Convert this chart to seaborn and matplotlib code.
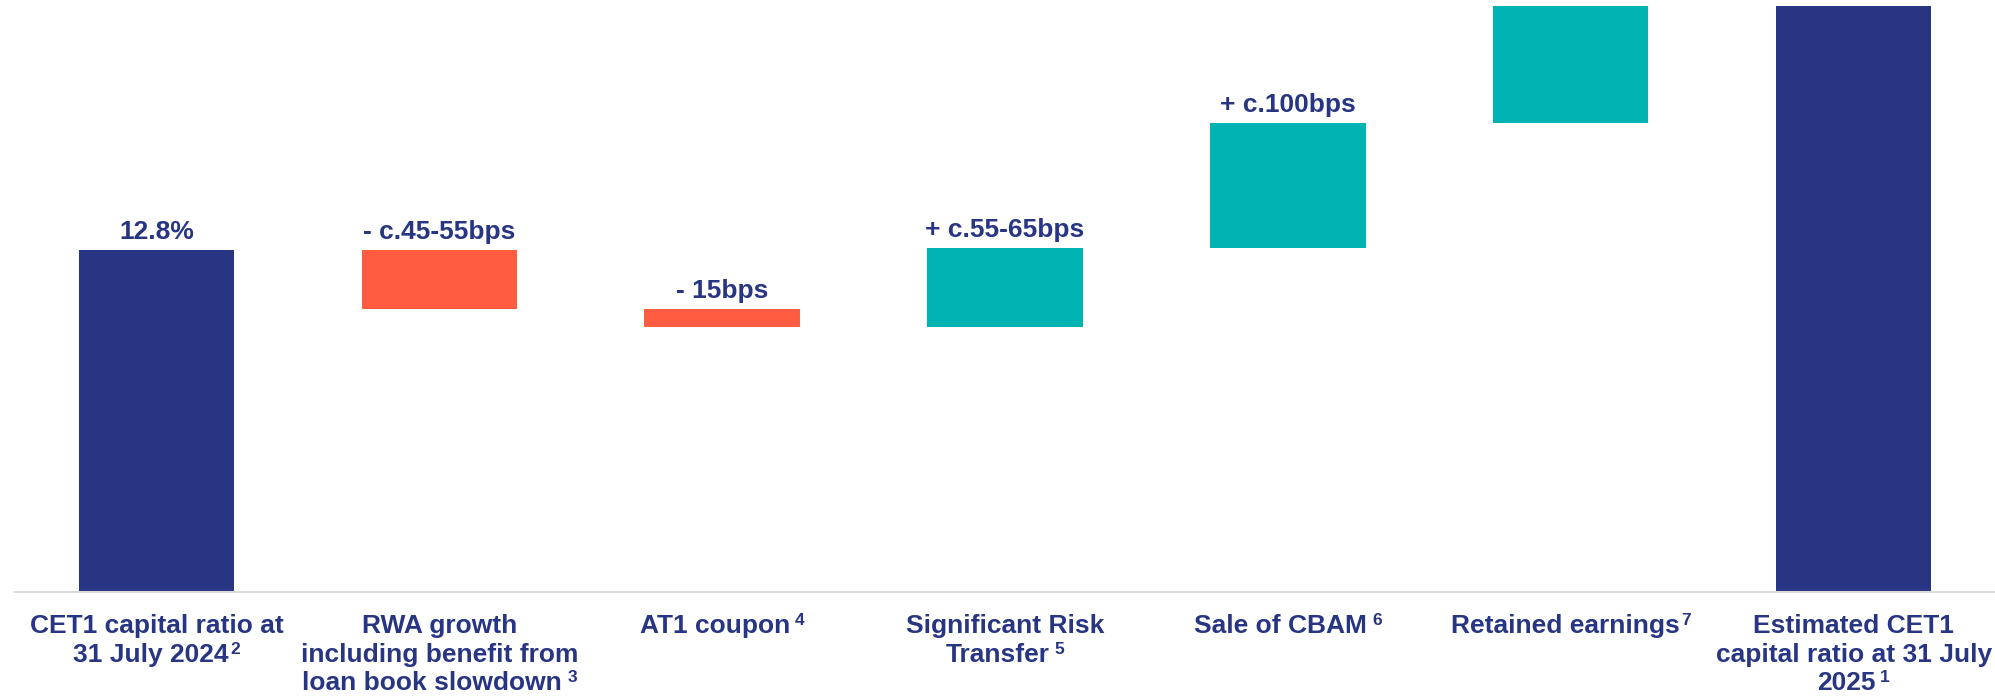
import matplotlib
matplotlib.use("Agg")
import matplotlib.pyplot as plt
from matplotlib.font_manager import FontProperties
import matplotlib.transforms as mtransforms
import seaborn as sns
import pandas as pd

# ---- data (CET1 ratio walk, %) ----
steps = ["start", "rwa", "at1", "srt", "cbam", "retained", "end"]
kinds = ["total", "delta", "delta", "delta", "delta", "delta", "total"]
values = [12.8, -0.48, -0.15, 0.65, 1.02, 1.05, 14.89]
value_labels = ["12.8%", "- c.45-55bps", "- 15bps", "+ c.55-65bps", "+ c.100bps", "", ""]
tick_labels = [
    "CET1 capital ratio at\n31 July 2024",
    "RWA growth\nincluding benefit from\nloan book slowdown",
    "AT1 coupon",
    "Significant Risk\nTransfer",
    "Sale of CBAM",
    "Retained earnings",
    "Estimated CET1\ncapital ratio at 31 July\n2025",
]
footnotes = ["2", "3", "4", "5", "6", "7", "1"]
footnote_gap_px = [2, 6, 4, 5, 5, 1, 4]

NAVY = "#283583"
RED = "#FF5C42"
TEAL = "#00B3B3"
FS = 19
SUP_FS = 12.5

# colours by kind / sign
colors = []
for k, v in zip(kinds, values):
    if k == "total":
        colors.append(NAVY)
    elif v < 0:
        colors.append(RED)
    else:
        colors.append(TEAL)

# bases for waterfall
bases = []
running = 0.0
for k, v in zip(kinds, values):
    if k == "total":
        bases.append(0.0)
        running = v
    else:
        bases.append(running)
        running += v

sns.set_style("white")
plt.rcParams["font.family"] = ["Liberation Sans", "DejaVu Sans"]

fig = plt.figure(figsize=(19.95, 6.97), dpi=100)
ax = fig.add_axes([15 / 1995, 105 / 697, 1980 / 1995, 586 / 697])

df = pd.DataFrame({"step": steps, "value": values})
sns.barplot(data=df, x="step", y="value", hue="step", order=steps, hue_order=steps,
            palette=dict(zip(steps, colors)), width=0.55, saturation=1,
            legend=False, ax=ax, linewidth=0)

for patch, base in zip(ax.patches, bases):
    patch.set_y(base)

ax.set_xlim(-0.5, 6.5)
ax.set_ylim(10.0, 14.8)

# value labels
for i, (lab, base, v) in enumerate(zip(value_labels, bases, values)):
    if not lab:
        continue
    top = max(base, base + v)
    ax.annotate(lab, xy=(i, top), xytext=(0, 8), textcoords="offset points",
                ha="center", va="baseline", fontsize=FS, fontweight="bold",
                color=NAVY)

ax.set_xticks(range(len(steps)))
ax.set_xticklabels([""] * len(steps))
ax.tick_params(axis="x", length=0)
ax.set_xlabel("")
ax.set_ylabel("")
ax.set_yticks([])
for s in ["left", "top", "right"]:
    ax.spines[s].set_visible(False)
ax.spines["bottom"].set_color("#D9D9D9")
ax.spines["bottom"].set_linewidth(1.5)

# category labels, centred under each bar, with footnote superscript on the
# last line (the line is centred including its superscript)
fig.canvas.draw()
renderer = fig.canvas.get_renderer()
fp = FontProperties(family=["Liberation Sans", "DejaVu Sans"], size=FS, weight="bold")
fp_sup = FontProperties(family=["Liberation Sans", "DejaVu Sans"], size=SUP_FS, weight="bold")
trans = mtransforms.blended_transform_factory(ax.transData, ax.transAxes)
FIRST_BASELINE = 41.0   # px below the axis line
PITCH = 28.7            # px between baselines
SUP_RAISE = 8.0         # px

for i, (label, note, gap) in enumerate(zip(tick_labels, footnotes, footnote_gap_px)):
    lines = label.split("\n")
    for k, line in enumerate(lines):
        dy = -(FIRST_BASELINE + k * PITCH)
        if k < len(lines) - 1:
            ax.annotate(line, xy=(i, 0), xycoords=trans, xytext=(0, dy),
                        textcoords="offset pixels", ha="center", va="baseline",
                        fontproperties=fp, color=NAVY, annotation_clip=False)
        else:
            w_line, _, _ = renderer.get_text_width_height_descent(line, fp, ismath=False)
            w_sup, _, _ = renderer.get_text_width_height_descent(note, fp_sup, ismath=False)
            total = w_line + gap + w_sup
            x0 = -total / 2
            ax.annotate(line, xy=(i, 0), xycoords=trans, xytext=(x0, dy),
                        textcoords="offset pixels", ha="left", va="baseline",
                        fontproperties=fp, color=NAVY, annotation_clip=False)
            ax.annotate(note, xy=(i, 0), xycoords=trans,
                        xytext=(x0 + w_line + gap, dy + SUP_RAISE),
                        textcoords="offset pixels", ha="left", va="baseline",
                        fontproperties=fp_sup, color=NAVY, annotation_clip=False)

fig.savefig("out.png", dpi=100)
